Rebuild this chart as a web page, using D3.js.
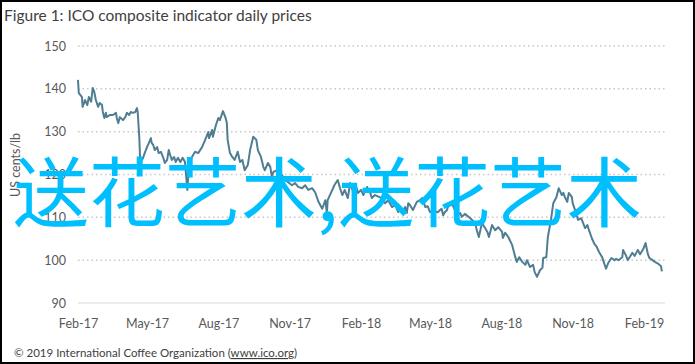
<!DOCTYPE html>
<html><head><meta charset="utf-8">
<script src="https://cdn.jsdelivr.net/npm/d3@7"></script>
<style>body{margin:0;background:#fff}svg{display:block}</style>
</head><body>
<svg id="c" width="695" height="364"></svg>
<script>
const title = "Figure 1: ICO composite indicator daily prices";
const yLabel = "US cents/lb";
const footer = "© 2019 International Coffee Organization (";
const footerLink = "www.ico.org";
const watermark = "送花艺术,送花艺术";
const yTicks = [90, 100, 110, 120, 130, 140, 150];
const xTicks = ["2017-02-01","2017-05-01","2017-08-01","2017-11-01","2018-02-01","2018-05-01","2018-08-01","2018-11-01","2019-02-01"];
const dates = ["2017-02-01","2017-02-02","2017-02-06","2017-02-07","2017-02-10","2017-02-13","2017-02-15","2017-02-18","2017-02-20","2017-02-22","2017-02-24","2017-02-27","2017-03-01","2017-03-04","2017-03-05","2017-03-07","2017-03-09","2017-03-10","2017-03-14","2017-03-18","2017-03-22","2017-03-23","2017-03-25","2017-03-27","2017-03-31","2017-04-03","2017-04-05","2017-04-08","2017-04-10","2017-04-13","2017-04-16","2017-04-18","2017-04-19","2017-04-21","2017-04-22","2017-04-23","2017-04-26","2017-04-28","2017-05-01","2017-05-04","2017-05-06","2017-05-07","2017-05-09","2017-05-11","2017-05-14","2017-05-16","2017-05-19","2017-05-22","2017-05-24","2017-05-27","2017-05-29","2017-05-31","2017-06-02","2017-06-05","2017-06-07","2017-06-10","2017-06-13","2017-06-16","2017-06-19","2017-06-22","2017-06-24","2017-06-28","2017-07-02","2017-07-06","2017-07-11","2017-07-15","2017-07-19","2017-07-20","2017-07-24","2017-07-25","2017-07-29","2017-08-01","2017-08-03","2017-08-07","2017-08-10","2017-08-12","2017-08-13","2017-08-16","2017-08-19","2017-08-22","2017-08-26","2017-08-29","2017-09-01","2017-09-04","2017-09-08","2017-09-11","2017-09-15","2017-09-19","2017-09-21","2017-09-25","2017-09-28","2017-09-30","2017-10-04","2017-10-07","2017-10-09","2017-10-11","2017-10-16","2017-10-18","2017-10-22","2017-10-26","2017-10-30","2017-11-04","2017-11-08","2017-11-12","2017-11-17","2017-11-21","2017-11-25","2017-11-30","2017-12-04","2017-12-08","2017-12-13","2017-12-17","2017-12-19","2017-12-20","2017-12-26","2017-12-29","2018-01-02","2018-01-05","2018-01-08","2018-01-11","2018-01-15","2018-01-18","2018-01-22","2018-01-26","2018-01-28","2018-02-01","2018-02-04","2018-02-06","2018-02-09","2018-02-10","2018-02-13","2018-02-15","2018-02-19","2018-02-28","2018-03-04","2018-03-08","2018-03-13","2018-03-17","2018-03-21","2018-03-23","2018-03-26","2018-03-30","2018-04-01","2018-04-03","2018-04-05","2018-04-09","2018-04-14","2018-04-18","2018-04-21","2018-04-25","2018-04-28","2018-05-01","2018-05-05","2018-05-11","2018-05-14","2018-05-16","2018-05-18","2018-05-20","2018-05-23","2018-05-24","2018-05-29","2018-06-05","2018-06-09","2018-06-11","2018-06-15","2018-06-22","2018-06-28","2018-07-01","2018-07-03","2018-07-07","2018-07-11","2018-07-14","2018-07-16","2018-07-20","2018-07-24","2018-07-28","2018-08-02","2018-08-03","2018-08-06","2018-08-10","2018-08-15","2018-08-19","2018-08-21","2018-08-24","2018-08-28","2018-09-01","2018-09-03","2018-09-07","2018-09-11","2018-09-13","2018-09-16","2018-09-20","2018-09-23","2018-09-24","2018-09-28","2018-09-30","2018-10-04","2018-10-07","2018-10-11","2018-10-14","2018-10-18","2018-10-20","2018-10-22","2018-10-25","2018-10-27","2018-10-31","2018-11-01","2018-11-05","2018-11-08","2018-11-12","2018-11-14","2018-11-17","2018-11-20","2018-11-22","2018-11-26","2018-11-29","2018-12-02","2018-12-05","2018-12-09","2018-12-11","2018-12-14","2018-12-17","2018-12-21","2018-12-25","2018-12-27","2018-12-30","2019-01-04","2019-01-05","2019-01-09","2019-01-11","2019-01-17","2019-01-20","2019-01-24","2019-01-27","2019-01-31","2019-02-03","2019-02-06","2019-02-08","2019-02-12","2019-02-15","2019-02-19","2019-02-23","2019-02-24"];
const prices = [142.1,139.0,138.1,135.8,137.4,136.2,138.1,137.0,140.2,139.3,137.4,135.8,136.7,136.2,134.6,133.2,134.4,133.4,133.9,133.9,134.4,133.2,132.0,133.4,132.7,133.4,134.4,133.9,134.6,134.4,134.6,135.5,134.6,128.8,124.1,122.9,123.9,125.0,126.4,127.6,128.5,127.4,126.9,125.7,126.4,125.0,125.3,123.9,122.7,123.4,125.7,124.5,123.4,124.1,122.9,123.9,122.9,123.9,122.9,116.4,121.8,124.1,125.3,125.0,126.4,128.1,129.9,128.5,130.4,128.8,131.6,133.2,132.7,134.8,133.4,132.0,128.1,125.0,124.1,123.4,125.3,122.9,123.4,121.0,122.2,125.7,128.8,128.1,125.7,124.1,121.8,121.0,122.7,121.8,119.4,120.6,121.0,119.4,119.9,118.7,118.2,117.5,118.0,117.1,116.8,117.5,116.4,116.8,115.8,113.7,112.0,114.0,111.0,114.0,116.4,117.6,118.7,116.8,115.2,116.4,114.5,118.0,115.9,117.1,115.7,116.4,115.2,116.1,117.1,116.1,115.7,114.5,115.2,114.5,113.3,114.0,112.4,112.9,111.2,112.2,111.0,112.4,111.0,113.3,112.9,111.7,113.6,114.0,114.5,112.4,112.6,111.2,111.5,111.2,111.7,112.0,110.5,111.2,111.7,112.4,113.3,110.5,111.0,110.1,110.8,109.8,108.7,106.6,105.4,108.7,107.5,106.6,105.4,108.2,107.0,107.7,106.6,105.2,106.4,105.4,103.5,100.7,99.6,100.7,99.6,98.9,100.0,98.4,98.9,97.2,96.1,97.7,98.2,100.5,100.7,105.4,109.4,113.3,114.7,116.8,115.2,115.7,114.7,113.6,115.7,114.7,113.3,111.2,109.4,109.8,108.9,107.5,108.2,107.0,105.0,103.8,103.1,101.9,100.7,99.6,98.0,99.4,100.5,100.0,100.3,100.0,100.7,102.4,101.0,100.0,101.7,101.0,102.4,101.4,102.6,104.0,101.4,100.5,100.0,99.6,99.2,98.6,97.4];

const svg = d3.select("#c");
const parse = d3.timeParse("%Y-%m-%d");
const data = dates.map((d, i) => ({date: parse(d), value: prices[i]}));

const x = d3.scaleTime().domain([parse(xTicks[0]), parse(xTicks[xTicks.length-1])]).range([78, 644]);
const y = d3.scaleLinear().domain([90, 150]).range([303, 46]);
const plotRight = 665;
const font = "Lato, 'Open Sans', sans-serif";

svg.append("rect").attr("x",1).attr("y",1).attr("width",693).attr("height",362)
  .attr("fill","#fff").attr("stroke","#000").attr("stroke-width",2);

svg.append("text").attr("x",4).attr("y",21).text(title)
  .attr("font-family",font).attr("font-size",15.5).attr("fill","#404040");

// gridlines
svg.append("g").selectAll("line").data(yTicks.filter(t => t > 90)).join("line")
  .attr("x1",78).attr("x2",plotRight).attr("y1",d=>y(d)).attr("y2",d=>y(d))
  .attr("stroke","#c8c8c8").attr("stroke-width",1.5).attr("stroke-dasharray","1.5,3");
svg.append("line").attr("x1",78).attr("x2",plotRight).attr("y1",y(90)).attr("y2",y(90))
  .attr("stroke","#d9d9d9").attr("stroke-width",1);

// y axis
const yAxis = d3.axisLeft(y).tickValues(yTicks).tickSize(0).tickPadding(0);
const gy = svg.append("g").attr("transform","translate(66,0)").call(yAxis);
gy.select(".domain").remove();
gy.selectAll("text").attr("font-family",font).attr("font-size",12.5).attr("fill","#595959");

// x axis
const xAxis = d3.axisBottom(x).tickValues(xTicks.map(parse)).tickFormat(d3.timeFormat("%b-%y")).tickSize(0).tickPadding(0);
const gx = svg.append("g").attr("transform","translate(0,319)").call(xAxis);
gx.select(".domain").remove();
gx.selectAll("text").attr("font-family",font).attr("font-size",12.5).attr("fill","#595959");

svg.append("text").attr("transform","translate(20,165) rotate(-90)").attr("text-anchor","middle")
  .text(yLabel).attr("font-family",font).attr("font-size",12.5).attr("fill","#595959");

// line
svg.append("path").datum(data)
  .attr("d", d3.line().x(d=>x(d.date)).y(d=>y(d.value)))
  .attr("fill","none").attr("stroke","#4f7d92").attr("stroke-width",2).attr("stroke-linejoin","round");

// footer
const ft = svg.append("text").attr("x",14).attr("y",357)
  .attr("font-family",font).attr("font-size",11.5).attr("fill","#404040");
ft.append("tspan").text(footer);
ft.append("tspan").text(footerLink).attr("text-decoration","underline");
ft.append("tspan").text(")");

// watermark
svg.append("text").attr("x",13).attr("y",221).text(watermark)
  .attr("font-family","'Noto Sans CJK SC', sans-serif").attr("font-size",76).attr("fill","#00bfff");
</script>
</body></html>
